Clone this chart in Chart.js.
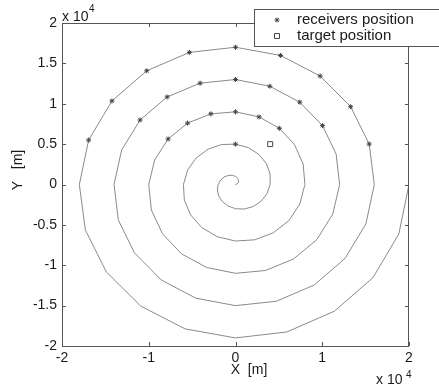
<!DOCTYPE html>
<html>
<head>
<meta charset="utf-8">
<script src="https://cdn.jsdelivr.net/npm/chart.js@4.4.1/dist/chart.umd.min.js"></script>
<style>
  html, body { margin: 0; padding: 0; background: #fff; }
  #wrap { width: 439px; height: 388px; position: relative; }
</style>
</head>
<body>
<div id="wrap"><canvas id="chart"></canvas></div>
<script>
// all coordinates in units of 10^4 m (the axes carry an "x 10^4" multiplier)

// spiral path, one vertex every 18 degrees
const spiralX = [
  0, 0.019, 0.032, 0.035, 0.025, 0, -0.037, -0.082, -0.129, -0.171,
  -0.2, -0.209, -0.194, -0.153, -0.087, 0, 0.099, 0.200, 0.291, 0.361,
  0.4, 0.399, 0.356, 0.270, 0.148, 0, -0.161, -0.317, -0.453, -0.552,
  -0.6, -0.590, -0.518, -0.388, -0.210, 0, 0.222, 0.435, 0.615, 0.742,
  0.8, 0.780, 0.680, 0.506, 0.272, 0, -0.284, -0.553, -0.777, -0.932,
  -1.0, -0.970, -0.841, -0.623, -0.334, 0, 0.346, 0.670, 0.938, 1.122,
  1.2, 1.160, 1.003, 0.741, 0.396, 0, -0.408, -0.788, -1.100, -1.313,
  -1.4, -1.351, -1.165, -0.858, -0.457, 0, 0.470, 0.905, 1.262, 1.503,
  1.6, 1.541, 1.327, 0.976, 0.519, 0, -0.531, -1.023, -1.424, -1.693,
  -1.8, -1.731, -1.489, -1.093, -0.581, 0, 0.593, 1.140, 1.586, 1.883,
  2.0
];
const spiralY = [
  0, 0.006, 0.024, 0.049, 0.076, 0.1, 0.114, 0.113, 0.094, 0.056,
  0, -0.068, -0.141, -0.210, -0.266, -0.3, -0.304, -0.275, -0.212, -0.117,
  0, 0.130, 0.259, 0.372, 0.457, 0.5, 0.495, 0.437, 0.329, 0.179,
  0, -0.192, -0.376, -0.534, -0.647, -0.7, -0.685, -0.599, -0.447, -0.241,
  0, 0.253, 0.494, 0.696, 0.837, 0.9, 0.875, 0.760, 0.564, 0.303,
  0, -0.315, -0.611, -0.858, -1.027, -1.1, -1.065, -0.922, -0.682, -0.365,
  0, 0.377, 0.729, 1.019, 1.217, 1.3, 1.255, 1.084, 0.799, 0.426,
  0, -0.439, -0.846, -1.181, -1.408, -1.5, -1.446, -1.246, -0.917, -0.488,
  0, 0.501, 0.964, 1.343, 1.598, 1.7, 1.636, 1.408, 1.035, 0.550,
  0, -0.562, -1.082, -1.505, -1.788, -1.9, -1.826, -1.569, -1.152, -0.612,
  0
];

// receivers (upper part of the outer rings)
const recvX = [0, -0.777, -0.553, -0.284, 0, 0.272, 0.506,
  -1.100, -0.788, -0.408, 0, 0.396, 0.741, 1.003,
  -1.693, -1.424, -1.023, -0.531, 0, 0.519, 0.976, 1.327, 1.541];
const recvY = [0.5, 0.564, 0.760, 0.875, 0.9, 0.837, 0.696,
  0.799, 1.084, 1.255, 1.3, 1.217, 1.019, 0.729,
  0.550, 1.035, 1.408, 1.636, 1.7, 1.598, 1.343, 0.964, 0.501];

const targetX = [0.4];
const targetY = [0.5];

const xTicks = [-2, -1, 0, 1, 2];
const yTicks = [-2, -1.5, -1, -0.5, 0, 0.5, 1, 1.5, 2];

const FONT = '"Liberation Sans", Arial, sans-serif';
const AXIS_COLOR = '#555';
const TEXT_COLOR = '#1a1a1a';

const toPoints = (xs, ys) => xs.map((x, i) => ({ x: x, y: ys[i] }));

// box, inward ticks, axis titles, exponents
const matlabFrame = {
  id: 'matlabFrame',
  afterDatasetsDraw(chart) {
    const { ctx, chartArea: a, scales } = chart;
    const tl = 4;
    ctx.save();
    ctx.strokeStyle = AXIS_COLOR;
    ctx.lineWidth = 1;
    ctx.strokeRect(a.left + 0.5, a.top + 0.5, a.right - a.left - 1, a.bottom - a.top);

    ctx.beginPath();
    xTicks.forEach(v => {
      const px = Math.round(scales.x.getPixelForValue(v)) + 0.5;
      ctx.moveTo(px, a.bottom); ctx.lineTo(px, a.bottom - tl);
      ctx.moveTo(px, a.top); ctx.lineTo(px, a.top + tl);
    });
    yTicks.forEach(v => {
      const py = Math.round(scales.y.getPixelForValue(v)) + 0.5;
      ctx.moveTo(a.left, py); ctx.lineTo(a.left + tl, py);
      ctx.moveTo(a.right, py); ctx.lineTo(a.right - tl, py);
    });
    ctx.stroke();

    ctx.fillStyle = TEXT_COLOR;
    ctx.font = '14px ' + FONT;
    ctx.textBaseline = 'middle';
    ctx.textAlign = 'center';
    ctx.fillText('X  [m]', 249, 370);

    ctx.save();
    ctx.translate(18, 170);
    ctx.rotate(-Math.PI / 2);
    ctx.fillText('Y   [m]', 0, 0);
    ctx.restore();

    // exponent labels
    ctx.textAlign = 'left';
    ctx.textBaseline = 'alphabetic';
    ctx.font = '14px ' + FONT;
    ctx.fillText('x 10', 62, 21);
    ctx.fillText('x 10', 376, 384);
    ctx.font = '10px ' + FONT;
    ctx.fillText('4', 89, 12);
    ctx.fillText('4', 406, 378);
    ctx.restore();
  },
  afterDraw(chart) {
    const { ctx } = chart;
    const items = chart.data.datasets.filter(d => d.inLegend);
    ctx.save();
    ctx.fillStyle = '#fff';
    ctx.strokeStyle = AXIS_COLOR;
    ctx.lineWidth = 1;
    ctx.fillRect(254, 9, 200, 37);
    ctx.strokeRect(254.5, 9.5, 200, 37);
    ctx.font = '15px ' + FONT;
    ctx.textBaseline = 'middle';
    ctx.textAlign = 'left';
    items.forEach((d, i) => {
      const y = 20 + i * 16;
      ctx.fillStyle = d.backgroundColor;
      ctx.strokeStyle = d.borderColor;
      ctx.lineWidth = 1;
      Chart.helpers.drawPoint(ctx, {
        pointStyle: d.pointStyle, radius: d.pointRadius, borderWidth: 1, rotation: 0
      }, 277, y);
      ctx.fillStyle = TEXT_COLOR;
      ctx.fillText(d.label, 297, y);
    });
    ctx.restore();
  }
};

new Chart(document.getElementById('chart'), {
  type: 'scatter',
  data: {
    datasets: [
      {
        label: 'spiral',
        data: toPoints(spiralX, spiralY),
        showLine: true,
        borderColor: '#8a8a8a',
        borderWidth: 1,
        pointRadius: 0,
        tension: 0,
        order: 3
      },
      {
        label: 'receivers position',
        inLegend: true,
        data: toPoints(recvX, recvY),
        pointStyle: 'star',
        pointRadius: 2.5,
        borderColor: '#444',
        backgroundColor: '#444',
        pointBorderWidth: 1,
        order: 1
      },
      {
        label: 'target position',
        inLegend: true,
        data: toPoints(targetX, targetY),
        pointStyle: 'rect',
        pointRadius: 3.5,
        borderColor: '#444',
        backgroundColor: '#fff',
        pointBorderWidth: 1,
        order: 2
      }
    ]
  },
  options: {
    responsive: true,
    maintainAspectRatio: false,
    animation: false,
    layout: { padding: { top: 23, right: 30, left: 0, bottom: 0 } },
    plugins: {
      legend: { display: false },
      tooltip: { enabled: false }
    },
    scales: {
      x: {
        type: 'linear',
        min: -2,
        max: 2,
        border: { display: false },
        grid: { display: false, drawTicks: false },
        afterBuildTicks: s => { s.ticks = xTicks.map(v => ({ value: v })); },
        afterFit: s => { s.height = 42; },
        ticks: {
          autoSkip: false,
          maxRotation: 0,
          padding: 4,
          color: TEXT_COLOR,
          font: { family: FONT, size: 14 },
          callback: v => String(v)
        }
      },
      y: {
        type: 'linear',
        min: -2,
        max: 2,
        border: { display: false },
        grid: { display: false, drawTicks: false },
        afterBuildTicks: s => { s.ticks = yTicks.map(v => ({ value: v })); },
        afterFit: s => { s.width = 62; },
        ticks: {
          autoSkip: false,
          padding: 5,
          color: TEXT_COLOR,
          font: { family: FONT, size: 14 },
          callback: v => String(v)
        }
      }
    }
  },
  plugins: [matlabFrame]
});
</script>
</body>
</html>
